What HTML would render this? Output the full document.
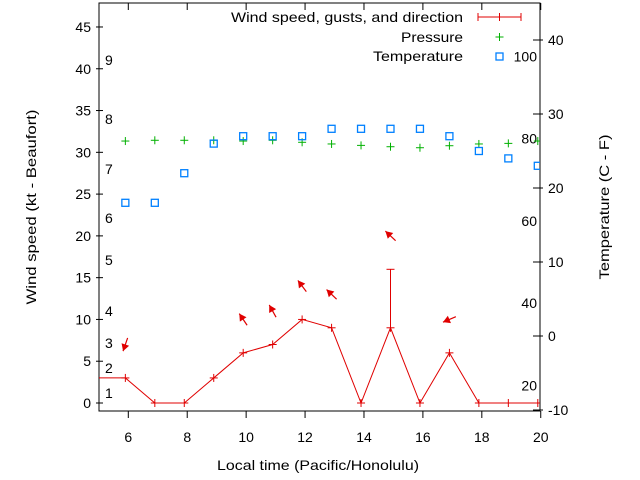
<!DOCTYPE html>
<html><head><meta charset="utf-8"><style>
body{margin:0;background:#fff}
svg{display:block;font-family:"Liberation Sans",sans-serif;font-size:14px}
</style></head><body>
<svg id="c" width="640" height="480"></svg>
<script>
const hours=[4.9,5.9,6.9,7.9,8.9,9.9,10.9,11.9,12.9,13.9,14.9,15.9,16.9,17.9,18.9,19.9];
const wind=[3,3,0,0,3,6,7,10,9,0,9,0,6,0,0,0];
const gust=[null,null,null,null,null,null,null,null,null,null,16,null,null,null,null,null];
const windDir=[null,19,null,null,null,146,151,143,134,null,133,null,67,null,null,null];
const pressure=[null,31.35,31.44,31.44,31.44,31.35,31.44,31.2,31.0,30.83,30.67,30.55,30.79,31.0,31.07,31.35];
const tempC=[null,18,18,22,26,27,27,27,28,28,28,28,27,25,24,23];
const xTicks=[6,8,10,12,14,16,18,20];
const yTicks=[0,5,10,15,20,25,30,35,40,45];
const cTicks=[-10,0,10,20,30,40];
const fTicks=[20,40,60,80,100];
const beaufort=[[1,393],[2,368],[3,343],[4,311],[5,260],[6,218],[7,169],[8,119],[9,60]];

const L=99,R=540,T=3,B=411;
const X=h=>128.3+(h-6)*29.46;
const Y=k=>403-k*8.356;
const YC=c=>336-c*7.4;
const NS="http://www.w3.org/2000/svg";
const svg=document.getElementById('c');
function el(t,a,p){const e=document.createElementNS(NS,t);for(const k in a)e.setAttribute(k,a[k]);(p||svg).appendChild(e);return e;}
const clip=el('clipPath',{id:'pc'});el('rect',{x:L,y:T,width:R-L,height:B-T},clip);

const frame=el('rect',{x:L,y:T,width:R-L,height:B-T,fill:'none',stroke:'#000','stroke-width':1});



xTicks.forEach(h=>{
  const x=X(h);
  el('line',{x1:x,y1:B,x2:x,y2:B+7,stroke:'#000'});
  el('line',{x1:x,y1:T,x2:x,y2:T+7,stroke:'#000'});
  const t=el('text',{x:x,y:442,'text-anchor':'middle'});t.textContent=h;
  
  
});
yTicks.forEach(v=>{
  const y=Y(v);
  el('line',{x1:L-3,y1:y,x2:L+4,y2:y,stroke:'#000'});
  const t=el('text',{x:91,y:y+5,'text-anchor':'end'});t.textContent=v;
  
  
});
cTicks.forEach(v=>{
  const y=YC(v);
  el('line',{x1:R-7,y1:y,x2:R+3,y2:y,stroke:'#000'});
  const t=el('text',{x:548,y:y+5});t.textContent=v;
  
  
});
fTicks.forEach(v=>{
  const y=YC((v-32)/1.8);
  const t=el('text',{x:537,y:y+5,'text-anchor':'end'});t.textContent=v;
  
  
});
beaufort.forEach(([b,y])=>{
  const t=el('text',{x:105,y:y+5});t.textContent=b;
  
  
});

const g=el('g',{'clip-path':'url(#pc)'});
function plus(x,y,c,p){el('line',{x1:x-4,y1:y,x2:x+4,y2:y,stroke:c},p);el('line',{x1:x,y1:y-4,x2:x,y2:y+4,stroke:c},p);}
pressure.forEach((v,i)=>{if(v==null)return;const pg=el('g',{},g);
  
  
  plus(X(hours[i]),Y(v),'#00b000',pg);});
tempC.forEach((v,i)=>{if(v==null)return;const r=el('rect',{x:X(hours[i])-3.5,y:YC(v)-3.5,width:7,height:7,fill:'none',stroke:'#0080ff','stroke-width':1.3},g);
  
  });
const pl=el('polyline',{points:hours.map((h,i)=>X(h)+','+Y(wind[i])).join(' '),fill:'none',stroke:'#e00000'},g);


wind.forEach((v,i)=>{const pg=el('g',{},g);
  
  
  plus(X(hours[i]),Y(v),'#e00000',pg);
  if(gust[i]!=null){const x=X(hours[i]);
    el('line',{x1:x,y1:Y(v),x2:x,y2:Y(gust[i]),stroke:'#e00000'},pg);
    el('line',{x1:x-4,y1:Y(gust[i]),x2:x+4,y2:Y(gust[i]),stroke:'#e00000'},pg);}
});
windDir.forEach((d,i)=>{if(d==null)return;
  const top=Math.max(wind[i],gust[i]||0)+4;
  const cx=X(hours[i]),cy=Y(top);
  const b=(d+180)*Math.PI/180, dx=Math.sin(b), dy=-Math.cos(b), len=14;
  const hx=cx+dx*len/2,hy=cy+dy*len/2,tx=cx-dx*len/2,ty=cy-dy*len/2;
  const ag=el('g',{},g);
  
  
  el('line',{x1:tx,y1:ty,x2:hx,y2:hy,stroke:'#e00000','stroke-width':1.2},ag);
  const px=-dy,py=dx;
  const bx=hx-dx*7,by=hy-dy*7;
  el('polygon',{points:`${hx},${hy} ${bx+px*4},${by+py*4} ${bx-px*4},${by-py*4}`,fill:'#e00000'},ag);
});

function txt(x,y,s,a,n,w){const t=el('text',{x:x,y:y,'text-anchor':a||'start'});t.textContent=s;
  if(w){t.setAttribute('textLength',w);t.setAttribute('lengthAdjust','spacingAndGlyphs');}
  return t;}
txt(463,22,'Wind speed, gusts, and direction','end','legend-wind',232);
el('line',{x1:478,y1:17,x2:521,y2:17,stroke:'#e00000'});
el('line',{x1:478,y1:13,x2:478,y2:21,stroke:'#e00000'});
el('line',{x1:521,y1:13,x2:521,y2:21,stroke:'#e00000'});
plus(499.5,17,'#e00000');
txt(463,42,'Pressure','end','legend-pressure',62);
plus(499.5,37,'#00b000');
txt(463,61,'Temperature','end','legend-temperature',90);
el('rect',{x:496,y:53,width:7,height:7,fill:'none',stroke:'#0080ff','stroke-width':1.3});

txt(318,470,'Local time (Pacific/Honolulu)','middle','x-axis-title',202);
const yt=txt(0,0,'Wind speed (kt - Beaufort)','middle','y-axis-title',195);yt.setAttribute('transform','translate(40,207) rotate(-90)');
const rt=txt(0,0,'Temperature (C - F)','middle','right-axis-title',145);rt.setAttribute('transform','translate(609,207) rotate(-90)');
yt.setAttribute('transform','translate(36,207) rotate(-90)');
</script>
</body></html>
